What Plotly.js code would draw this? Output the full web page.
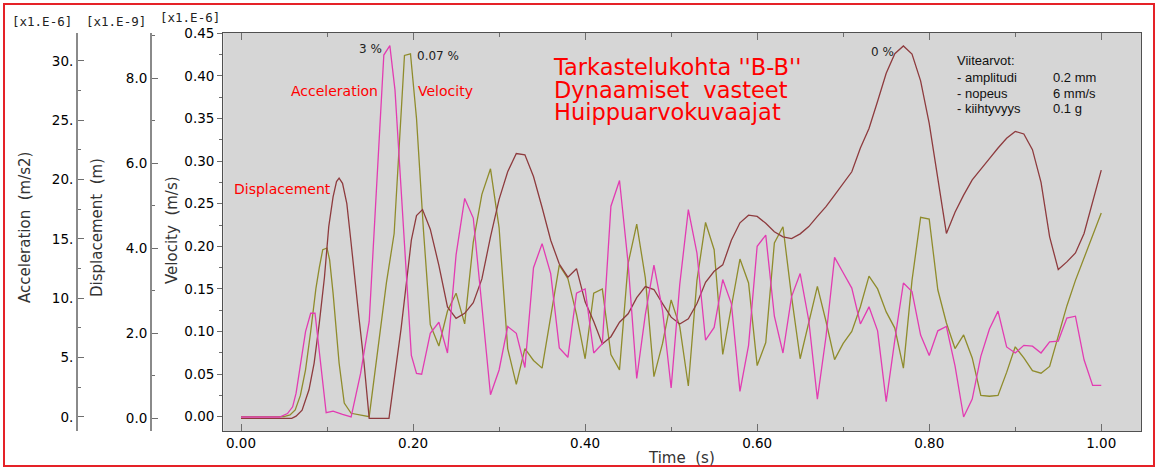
<!DOCTYPE html>
<html>
<head>
<meta charset="utf-8">
<script src="https://cdn.plot.ly/plotly-3.0.1.min.js"></script>
<style>
  html, body { margin: 0; padding: 0; background: #ffffff; }
  #chart { width: 1158px; height: 469px; }
</style>
</head>
<body>
<div id="chart"></div>
<script>
// Peak value curves, section "B-B": acceleration, velocity and displacement vs time.

// Acceleration [x1.E-6 m/s2]
const accTime = [0.000, 0.045, 0.054, 0.060, 0.064, 0.070, 0.075, 0.081, 0.086, 0.099,
  0.107, 0.118, 0.128, 0.139, 0.149, 0.166, 0.173, 0.179, 0.198, 0.204,
  0.21, 0.22, 0.23, 0.24, 0.25, 0.26, 0.27, 0.28, 0.29, 0.30,
  0.31, 0.32, 0.33, 0.34, 0.35, 0.36, 0.37, 0.38, 0.39, 0.40,
  0.41, 0.42, 0.43, 0.44, 0.45, 0.46, 0.47, 0.48, 0.49, 0.50,
  0.51, 0.52, 0.53, 0.54, 0.55, 0.56, 0.57, 0.58, 0.59, 0.60,
  0.61, 0.62, 0.63, 0.64, 0.65, 0.66, 0.67, 0.68, 0.69, 0.70,
  0.71, 0.72, 0.73, 0.74, 0.75, 0.76, 0.77, 0.78, 0.79, 0.80,
  0.81, 0.82, 0.83, 0.84, 0.85, 0.86, 0.87, 0.88, 0.89, 0.90,
  0.91, 0.92, 0.93, 0.94, 0.95, 0.96, 0.97, 0.98, 0.99, 1.00];
const accValue = [0, 0, 0.29, 0.86, 2.01, 4.67, 7.19, 8.74, 8.74, 0.36,
  0.50, 0.22, 0.00, 3.67, 8.05, 30.49, 31.28, 27.54, 5.18, 3.67,
  3.60, 7.05, 7.98, 5.39, 13.66, 18.41, 16.76, 9.35, 1.87, 3.96,
  7.62, 7.05, 4.17, 12.58, 14.60, 12.08, 5.82, 5.03, 10.43, 10.79,
  5.39, 6.18, 17.76, 19.92, 12.94, 3.24, 8.63, 12.80, 8.99, 2.44,
  11.15, 17.47, 13.81, 6.47, 7.55, 11.58, 9.56, 2.16, 6.04, 14.38,
  15.32, 8.49, 5.39, 10.14, 12.08, 8.13, 1.51, 6.76, 13.45, 12.15,
  10.86, 7.84, 9.28, 7.26, 1.29, 6.47, 11.29, 10.57, 6.90, 5.18,
  7.26, 7.62, 4.31, 0.00, 1.51, 5.11, 7.41, 8.92, 5.90, 5.39,
  6.04, 5.97, 5.39, 6.33, 6.40, 8.34, 8.49, 4.82, 2.66, 2.66];

// Velocity [x1.E-6 m/s]
const velTime = [0.000, 0.050, 0.057, 0.063, 0.069, 0.075, 0.081, 0.087, 0.091, 0.095,
  0.100, 0.103, 0.107, 0.114, 0.120, 0.128, 0.149, 0.159, 0.169, 0.178,
  0.190, 0.197, 0.204, 0.212,
  0.22, 0.23, 0.24, 0.25, 0.26, 0.27, 0.28, 0.29, 0.30,
  0.31, 0.32, 0.33, 0.34, 0.35, 0.36, 0.37, 0.38, 0.39, 0.40,
  0.41, 0.42, 0.43, 0.44, 0.45, 0.46, 0.47, 0.48, 0.49, 0.50,
  0.51, 0.52, 0.53, 0.54, 0.55, 0.56, 0.57, 0.58, 0.59, 0.60,
  0.61, 0.62, 0.63, 0.64, 0.65, 0.66, 0.67, 0.68, 0.69, 0.70,
  0.71, 0.72, 0.73, 0.74, 0.75, 0.76, 0.77, 0.78, 0.79, 0.80,
  0.81, 0.82, 0.83, 0.84, 0.85, 0.86, 0.87, 0.88, 0.89, 0.90,
  0.91, 0.92, 0.93, 0.94, 0.95, 0.96, 0.97, 0.98, 0.99, 1.00];
const velValue = [0, 0, 0.002, 0.008, 0.025, 0.055, 0.100, 0.150, 0.175, 0.196,
  0.198, 0.184, 0.145, 0.063, 0.016, 0.004, 0.000, 0.078, 0.157, 0.215,
  0.424, 0.426, 0.350, 0.220,
  0.108, 0.083, 0.124, 0.145, 0.109, 0.205, 0.261, 0.291, 0.222,
  0.080, 0.038, 0.080, 0.066, 0.057, 0.117, 0.178, 0.162, 0.120, 0.068,
  0.145, 0.150, 0.073, 0.055, 0.180, 0.226, 0.163, 0.047, 0.086, 0.137,
  0.106, 0.036, 0.160, 0.228, 0.196, 0.073, 0.129, 0.185, 0.157, 0.060,
  0.087, 0.204, 0.223, 0.141, 0.068, 0.112, 0.153, 0.112, 0.067, 0.086,
  0.100, 0.129, 0.165, 0.150, 0.123, 0.104, 0.057, 0.160, 0.234, 0.232,
  0.149, 0.110, 0.080, 0.096, 0.069, 0.025, 0.024, 0.025, 0.052, 0.082,
  0.069, 0.054, 0.051, 0.059, 0.095, 0.130, 0.160, 0.186, 0.212, 0.239];

// Displacement [x1.E-9 m]
const dispTime = [0.000, 0.059, 0.064, 0.071, 0.079, 0.085, 0.091, 0.097, 0.102, 0.107,
  0.111, 0.114, 0.118, 0.123, 0.128, 0.133, 0.137, 0.143, 0.147, 0.149,
  0.172, 0.186, 0.198, 0.204, 0.211,
  0.22, 0.23, 0.24, 0.25, 0.26, 0.27, 0.28, 0.29, 0.30,
  0.31, 0.32, 0.33, 0.34, 0.35, 0.36, 0.37, 0.38, 0.39, 0.40,
  0.41, 0.42, 0.43, 0.44, 0.45, 0.46, 0.47, 0.48, 0.49, 0.50,
  0.51, 0.52, 0.53, 0.54, 0.55, 0.56, 0.57, 0.58, 0.59, 0.60,
  0.61, 0.62, 0.63, 0.64, 0.65, 0.66, 0.67, 0.68, 0.69, 0.70,
  0.71, 0.72, 0.73, 0.74, 0.75, 0.76, 0.77, 0.78, 0.79, 0.80,
  0.81, 0.82, 0.83, 0.84, 0.85, 0.86, 0.87, 0.88, 0.89, 0.90,
  0.91, 0.92, 0.93, 0.94, 0.95, 0.96, 0.97, 0.98, 0.99, 1.00];
const dispValue = [0, 0, 0.05, 0.19, 0.67, 1.30, 2.24, 3.32, 4.51, 5.21,
  5.57, 5.65, 5.53, 5.05, 4.12, 3.24, 2.39, 1.30, 0.51, 0.00,
  0.00, 2.10, 4.19, 4.77, 4.91,
  4.45, 3.60, 2.62, 2.35, 2.47, 2.72, 3.28, 4.27, 5.15,
  5.80, 6.23, 6.20, 5.69, 4.96, 4.19, 3.63, 3.32, 3.52, 2.74,
  2.28, 1.75, 1.92, 2.26, 2.46, 2.84, 3.10, 3.03, 2.70, 2.38,
  2.22, 2.34, 2.70, 3.20, 3.46, 3.61, 4.19, 4.60, 4.78, 4.75,
  4.59, 4.39, 4.27, 4.23, 4.34, 4.51, 4.75, 4.98, 5.25, 5.53,
  5.80, 6.36, 6.82, 7.46, 8.12, 8.58, 8.76, 8.57, 7.94, 6.94,
  5.69, 4.35, 4.85, 5.25, 5.61, 5.87, 6.11, 6.36, 6.59, 6.75,
  6.69, 6.32, 5.55, 4.27, 3.50, 3.68, 3.89, 4.35, 5.09, 5.84];

const xTickVals = [0, 0.2, 0.4, 0.6, 0.8, 1.0];
const titleLines = ["Tarkastelukohta ''B-B''", "Dynaamiset\u00a0 vasteet", "Huippuarvokuvaajat"];
const refLabels = ["Viitearvot:", "- amplitudi", "- nopeus", "- kiihtyvyys"];
const refValues = ["", "0.2 mm", "6 mm/s", "0.1 g"];

// ---- page geometry (pixels) ----
const W = 1158, H = 469;
const M = { l: 60, r: 17, t: 33, b: 38 };
const PW = W - M.l - M.r, PH = H - M.t - M.b;
const px = x => (x - M.l) / PW;
const py = y => (H - M.b - y) / PH;

const AXIS_GRAY = '#6e6e6e';
const FONT = 'DejaVu Sans, Verdana, sans-serif';
const TITLE_SIZE = 22.5;

const traces = [
  { x: dispTime, y: dispValue, yaxis: 'y2', type: 'scatter', mode: 'lines', name: 'Displacement',
    line: { color: '#8e3b3e', width: 1.3 } },
  { x: velTime, y: velValue, yaxis: 'y', type: 'scatter', mode: 'lines', name: 'Velocity',
    line: { color: '#8f8c2c', width: 1.3 } },
  { x: accTime, y: accValue, yaxis: 'y3', type: 'scatter', mode: 'lines', name: 'Acceleration',
    line: { color: '#e23cb2', width: 1.3 } }
];

function note(text, x, y, opts) {
  return Object.assign({
    text: text, xref: 'paper', yref: 'paper', x: px(x), y: py(y),
    xanchor: 'center', yanchor: 'middle', showarrow: false,
    font: { family: FONT, size: 14, color: '#000' }
  }, opts || {});
}

const annotations = [
  note('[x1.E-6]', 42, 21, { font: { family: 'DejaVu Sans Mono, monospace', size: 12.5, color: '#222' } }),
  note('[x1.E-9]', 116, 21, { font: { family: 'DejaVu Sans Mono, monospace', size: 12.5, color: '#222' } }),
  note('[x1.E-6]', 190, 17, { font: { family: 'DejaVu Sans Mono, monospace', size: 12.5, color: '#222' } }),
  note('Acceleration\u00a0 (m/s2)', 25, 228, { textangle: -90, font: { family: FONT, size: 15, color: '#333' } }),
  note('Displacement\u00a0 (m)', 97, 228, { textangle: -90, font: { family: FONT, size: 15, color: '#333' } }),
  note('Velocity\u00a0 (m/s)', 172, 230, { textangle: -90, font: { family: FONT, size: 15, color: '#333' } }),
  note('Time\u00a0 (s)', 681, 458, { font: { family: FONT, size: 15, color: '#333' } }),
  note('Acceleration', 334, 91, { font: { family: FONT, size: 14, color: '#ff0000' } }),
  note('Velocity', 445, 91, { font: { family: FONT, size: 14, color: '#ff0000' } }),
  note('Displacement', 282, 189, { font: { family: FONT, size: 14, color: '#ff0000' } }),
  note('3 %', 370, 49, { font: { family: FONT, size: 12, color: '#222' } }),
  note('0.07 %', 438, 56, { font: { family: FONT, size: 12, color: '#222' } }),
  note('0 %', 882, 52, { font: { family: FONT, size: 12, color: '#222' } }),
  // chart heading: three lines in one block, top edge placed so the first line centres near y=67
  note(titleLines.join('<br>'), 551, 52, { xanchor: 'left', yanchor: 'top', align: 'left',
    font: { family: FONT, size: TITLE_SIZE, color: '#ff0000' } })
];
const refY = [61, 77, 93, 108];
refLabels.forEach((t, i) => annotations.push(
  note(t, 955, refY[i], { xanchor: 'left', font: { family: 'Liberation Sans, Arial, sans-serif', size: 13, color: '#111' } })));
refValues.forEach((t, i) => { if (t) annotations.push(
  note(t, 1051, refY[i], { xanchor: 'left', font: { family: 'Liberation Sans, Arial, sans-serif', size: 13, color: '#111' } })); });

const tickFont = { family: FONT, size: 13.5, color: '#000' };

const layout = {
  width: W, height: H,
  margin: M,
  paper_bgcolor: '#ffffff',
  plot_bgcolor: '#d6d6d6',
  showlegend: false,
  hovermode: false,
  font: { family: FONT },
  xaxis: {
    domain: [px(223.3), 1],
    range: [-0.0206, 1.0462],
    tickvals: xTickVals, tickformat: '.2f',
    ticks: 'inside', ticklen: 7, tickcolor: AXIS_GRAY, tickwidth: 1,
    minor: { dtick: 0.1, tick0: 0, ticks: 'inside', ticklen: 4, tickcolor: AXIS_GRAY },
    showline: true, mirror: 'ticks', linecolor: '#505050', linewidth: 1.2,
    showgrid: false, zeroline: false,
    tickfont: tickFont
  },
  yaxis: {
    range: [-0.0168, 0.4504],
    dtick: 0.05, tick0: 0, tickformat: '.2f',
    ticks: 'outside', ticklen: 5, tickcolor: AXIS_GRAY,
    minor: { dtick: 0.025, tick0: 0, ticks: 'outside', ticklen: 3, tickcolor: AXIS_GRAY },
    showline: true, mirror: true, linecolor: '#505050', linewidth: 1.2,
    showgrid: false, zeroline: false,
    tickfont: tickFont
  },
  yaxis2: {
    overlaying: 'y', anchor: 'free', position: px(150), side: 'left',
    range: [-0.299, 9.066],
    dtick: 2, tick0: 0, tickformat: '.1f',
    ticks: 'inside', ticklen: 6, tickcolor: AXIS_GRAY,
    minor: { dtick: 1, tick0: 0, ticks: 'inside', ticklen: 3, tickcolor: AXIS_GRAY },
    showline: true, linecolor: '#8a8a8a', linewidth: 1.5,
    showgrid: false, zeroline: false,
    tickfont: tickFont
  },
  yaxis3: {
    overlaying: 'y', anchor: 'free', position: px(76), side: 'left',
    range: [-1.18, 32.35],
    dtick: 5, tick0: 0, tickformat: 'd', ticksuffix: '.',
    ticks: 'inside', ticklen: 6, tickcolor: AXIS_GRAY,
    minor: { dtick: 2.5, tick0: 0, ticks: 'inside', ticklen: 3, tickcolor: AXIS_GRAY },
    showline: true, linecolor: '#8a8a8a', linewidth: 1.5,
    showgrid: false, zeroline: false,
    tickfont: tickFont
  },
  yaxis4: {
    overlaying: 'y', anchor: 'x', side: 'right', matches: 'y',
    range: [-0.0168, 0.4504],
    dtick: 0.05, tick0: 0,
    ticks: 'inside', ticklen: 6, tickcolor: AXIS_GRAY,
    minor: { dtick: 0.025, tick0: 0, ticks: 'inside', ticklen: 3, tickcolor: AXIS_GRAY },
    showticklabels: false, showline: false, showgrid: false, zeroline: false
  },
  shapes: [
    { type: 'rect', xref: 'paper', yref: 'paper',
      x0: px(4), x1: px(1154), y0: py(466), y1: py(4),
      line: { color: '#e52228', width: 2 }, fillcolor: 'rgba(0,0,0,0)', layer: 'above' }
  ],
  annotations: annotations
};

Plotly.newPlot('chart', traces, layout, { displayModeBar: false, staticPlot: true }).then(gd => {
  // tighten the heading's line spacing to 1.0em (the default is 1.3em)
  gd.querySelectorAll('.annotation-text').forEach(t => {
    if (t.textContent.indexOf('Tarkastelukohta') !== 0) return;
    t.querySelectorAll('tspan.line').forEach((s, i) => {
      s.setAttribute('dy', i + 'em');
    });
  });
});
</script>
</body>
</html>
